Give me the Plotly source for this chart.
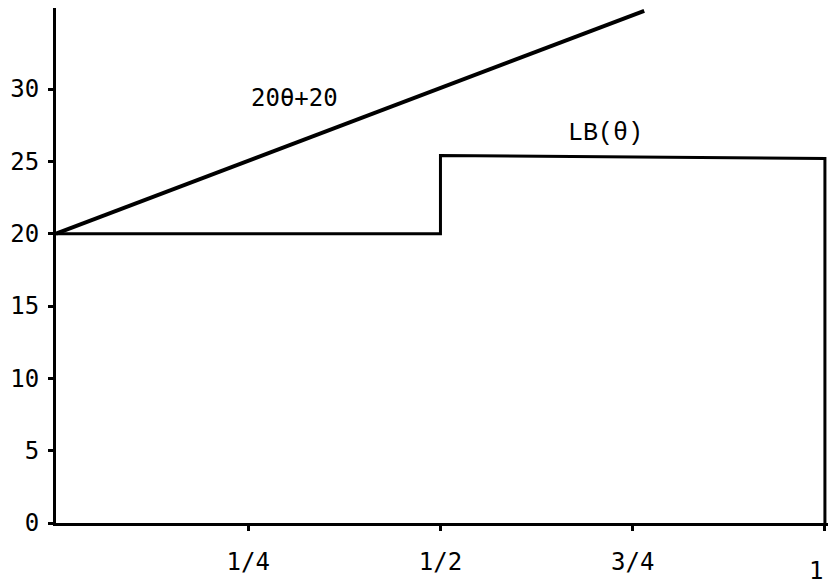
import plotly.graph_objects as go

# Data
theta_upper = [0.0, 0.765]
value_upper = [20.0, 35.4]          # 20θ+20

theta_lb = [0.0, 0.5, 0.5, 1.0, 1.0]
value_lb = [20.0, 20.0, 25.4, 25.2, 0.0]   # LB(θ), with closing edge at θ=1

x_tickvals = [0.25, 0.5, 0.75, 1.0]
x_ticktext = ["1/4", "1/2", "3/4", ""]
x_end_label = "1"
y_tickvals = [0, 5, 10, 15, 20, 25, 30]
y_ticktext = ["0", "5", "10", "15", "20", "25", "30"]

label_upper = "20θ+20"
label_lb = "LB(θ)"

fig = go.Figure()
fig.add_trace(go.Scatter(x=theta_upper, y=value_upper, mode="lines",
                         line=dict(color="black", width=4), showlegend=False,
                         hoverinfo="skip"))
fig.add_trace(go.Scatter(x=theta_lb, y=value_lb, mode="lines",
                         line=dict(color="black", width=3), showlegend=False,
                         hoverinfo="skip"))

mono = "DejaVu Sans Mono"
fig.add_annotation(x=0.31, y=29.4, xref="x", yref="y", text=label_upper,
                   showarrow=False, font=dict(family=mono, size=24, color="black"))
fig.add_annotation(x=0.714, y=26.95, xref="x", yref="y", text=label_lb,
                   showarrow=False, font=dict(family="Liberation Mono", size=25, color="black"))
fig.add_annotation(x=1.0, y=0, xref="x", yref="paper", text=x_end_label,
                   showarrow=False, xanchor="right", yanchor="top", yshift=-32,
                   font=dict(family=mono, size=24, color="black"))

fig.update_xaxes(range=[0, 1.004], tickvals=x_tickvals, ticktext=x_ticktext,
                 showline=True, linecolor="black", linewidth=3,
                 ticks="outside", ticklen=5, tickwidth=3, tickcolor="black",
                 showgrid=False, zeroline=False,
                 tickfont=dict(family=mono, size=24, color="black"),
                 ticklabelstandoff=10)
fig.update_yaxes(range=[0, 35.6], tickvals=y_tickvals, ticktext=y_ticktext,
                 showline=True, linecolor="black", linewidth=3,
                 ticks="outside", ticklen=5, tickwidth=3, tickcolor="black",
                 showgrid=False, zeroline=False,
                 tickfont=dict(family=mono, size=24, color="black"),
                 ticklabelstandoff=4)

fig.update_layout(width=828, height=586,
                  margin=dict(l=56, r=0, t=8, b=63),
                  paper_bgcolor="white", plot_bgcolor="white")

fig.write_html("out.html", config={"displayModeBar": False},
               post_script="document.body.style.margin='0';document.body.style.overflow='hidden';")
